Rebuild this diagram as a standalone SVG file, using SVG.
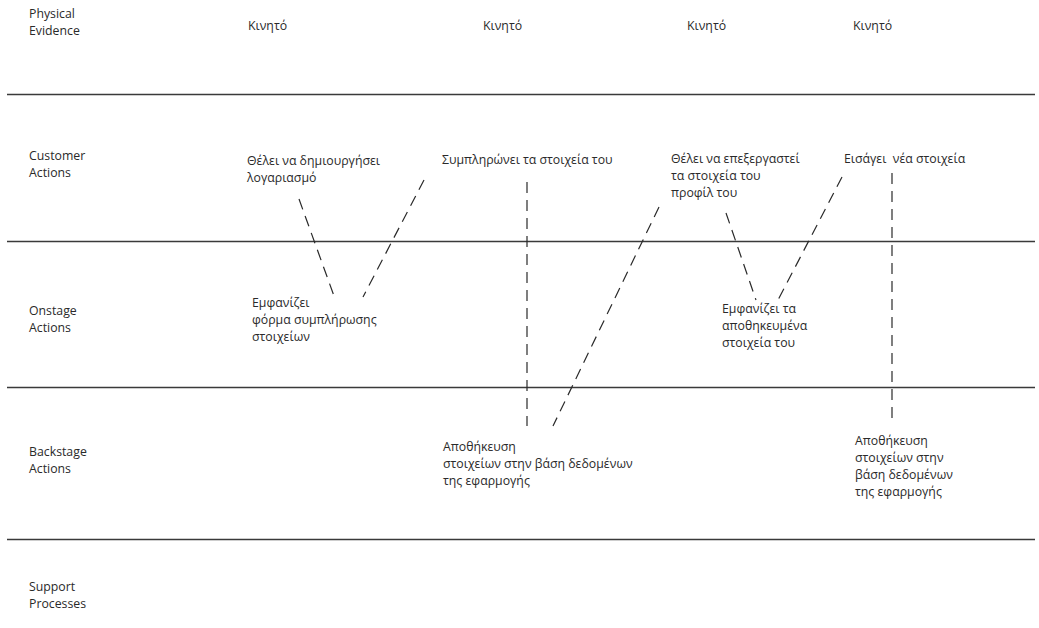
<svg xmlns="http://www.w3.org/2000/svg" width="1039" height="628" viewBox="0 0 1039 628">
<style>
text{font-family:"Open Sans","Liberation Sans",Arial,sans-serif;font-size:12.3px;fill:#2a2a2a}
.lane{stroke:#3a3a3a;stroke-width:1.4;fill:none}
.dash{stroke:#2a2a2a;stroke-width:1.2;stroke-dasharray:11 7;fill:none}
</style>
<rect width="1039" height="628" fill="#fff"/>
<g id="lanes">
<line class="lane" x1="7" y1="94.5" x2="1035" y2="94.5"/>
<line class="lane" x1="7" y1="241.5" x2="1035" y2="241.5"/>
<line class="lane" x1="7" y1="387.5" x2="1035" y2="387.5"/>
<line class="lane" x1="7" y1="539.5" x2="1035" y2="539.5"/>
</g>
<g id="lane-labels">
<text x="29" y="18">Physical</text><text x="29" y="35">Evidence</text>
<text x="29" y="160">Customer</text><text x="29" y="177">Actions</text>
<text x="29" y="315">Onstage</text><text x="29" y="332">Actions</text>
<text x="29" y="456">Backstage</text><text x="29" y="473">Actions</text>
<text x="29" y="591">Support</text><text x="29" y="608">Processes</text>
</g>
<g id="evidence">
<text x="248" y="30">Κινητό</text>
<text x="483" y="30">Κινητό</text>
<text x="687" y="30">Κινητό</text>
<text x="853" y="30">Κινητό</text>
</g>
<g id="n-create"><text x="247" y="165">Θέλει να δημιουργήσει</text><text x="247" y="182">λογαριασμό</text></g>
<g id="n-form"><text x="252" y="307">Εμφανίζει</text><text x="252" y="324">φόρμα συμπλήρωσης</text><text x="252" y="341">στοιχείων</text></g>
<g id="n-fill"><text x="442" y="164">Συμπληρώνει τα στοιχεία του</text></g>
<g id="n-store1"><text x="443" y="451">Αποθήκευση</text><text x="443" y="468">στοιχείων στην βάση δεδομένων</text><text x="443" y="485">της εφαρμογής</text></g>
<g id="n-edit"><text x="671" y="163">Θέλει να επεξεργαστεί</text><text x="671" y="180">τα στοιχεία του</text><text x="671" y="197">προφίλ του</text></g>
<g id="n-show"><text x="722" y="313">Εμφανίζει τα</text><text x="722" y="330">αποθηκευμένα</text><text x="722" y="347">στοιχεία του</text></g>
<g id="n-enter"><text x="844" y="163" style="white-space:pre">Εισάγει  νέα στοιχεία</text></g>
<g id="n-store2"><text x="855" y="445">Αποθήκευση</text><text x="855" y="462">στοιχείων στην</text><text x="855" y="479">βάση δεδομένων</text><text x="855" y="496">της εφαρμογής</text></g>
<g id="connectors">
<line class="dash" x1="299" y1="199" x2="334" y2="296"/>
<line class="dash" x1="424" y1="180" x2="363" y2="297"/>
<line class="dash" x1="527" y1="182" x2="527" y2="426"/>
<line class="dash" x1="659" y1="207" x2="553" y2="426"/>
<line class="dash" x1="726" y1="213" x2="756" y2="300"/>
<line class="dash" x1="842" y1="177" x2="777" y2="302"/>
<line class="dash" x1="892" y1="173" x2="892" y2="418"/>
</g>
</svg>
